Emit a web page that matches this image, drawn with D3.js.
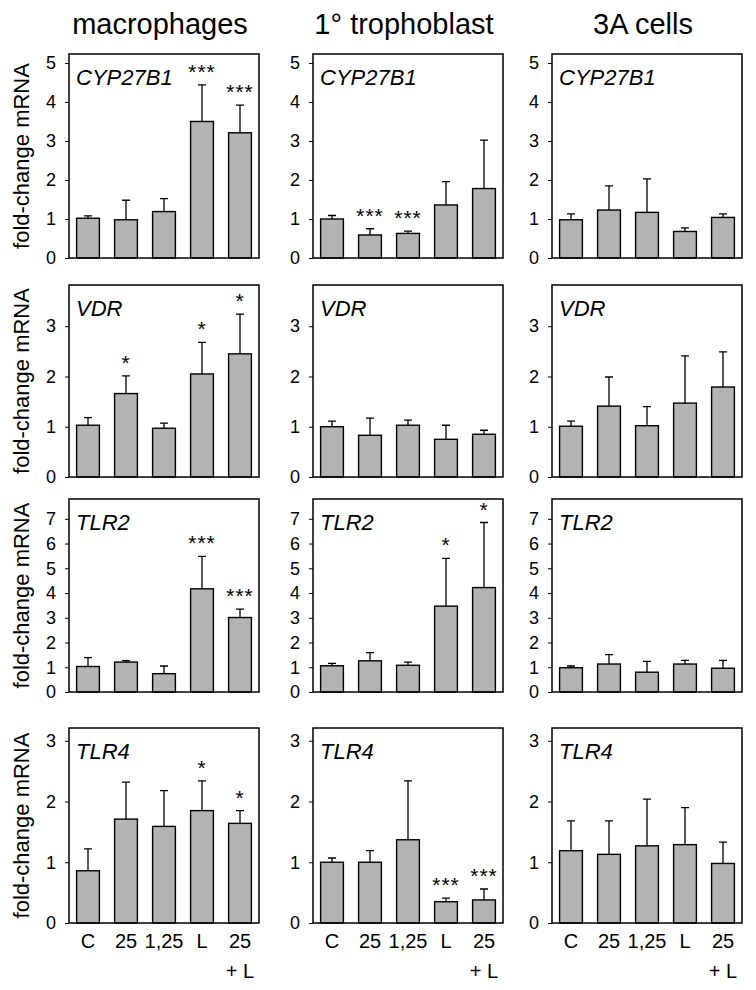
<!DOCTYPE html>
<html lang="en">
<head>
  <meta charset="UTF-8">
  <title>fold-change mRNA panels</title>
  <script src="https://d3js.org/d3.v7.min.js"></script>
</head>
<body style="margin: 0; padding: 0; overflow: hidden; background: #fff;">
  <svg id="svg-container"></svg>

  <script>
    // data
    const categories = ["C", "25", "1,25", "L", "25 + L"];
    const cellTypes = ["macrophages", "1° trophoblast", "3A cells"];
    const genes = ["CYP27B1", "VDR", "TLR2", "TLR4"];
    const yTicks = [[0, 1, 2, 3, 4, 5], [0, 1, 2, 3], [0, 1, 2, 3, 4, 5, 6, 7], [0, 1, 2, 3]];
    const yMax = [5.23, 3.82, 7.8, 3.21];

    // one row per cell type: macrophages, 1° trophoblast, 3A cells
    const cyp27b1Mean = [[1.02, 0.98, 1.19, 3.50, 3.21], [1.00, 0.59, 0.63, 1.36, 1.78], [0.98, 1.23, 1.17, 0.68, 1.04]];
    const cyp27b1Err  = [[0.06, 0.50, 0.33, 0.94, 0.71], [0.09, 0.16, 0.06, 0.60, 1.24], [0.15, 0.62, 0.86, 0.09, 0.09]];
    const cyp27b1Sig  = [["", "", "", "***", "***"], ["", "***", "***", "", ""], ["", "", "", "", ""]];

    const vdrMean = [[1.03, 1.66, 0.97, 2.05, 2.45], [1.00, 0.83, 1.03, 0.75, 0.85], [1.01, 1.41, 1.02, 1.47, 1.79]];
    const vdrErr  = [[0.15, 0.35, 0.10, 0.63, 0.79], [0.11, 0.34, 0.10, 0.28, 0.08], [0.10, 0.58, 0.38, 0.94, 0.70]];
    const vdrSig  = [["", "*", "", "*", "*"], ["", "", "", "", ""], ["", "", "", "", ""]];

    const tlr2Mean = [[1.03, 1.21, 0.74, 4.17, 3.01], [1.06, 1.26, 1.08, 3.47, 4.22], [0.98, 1.13, 0.80, 1.13, 0.96]];
    const tlr2Err  = [[0.36, 0.06, 0.31, 1.31, 0.34], [0.10, 0.33, 0.13, 1.93, 2.63], [0.07, 0.38, 0.44, 0.15, 0.32]];
    const tlr2Sig  = [["", "", "", "***", "***"], ["", "", "", "*", "*"], ["", "", "", "", ""]];

    const tlr4Mean = [[0.86, 1.71, 1.59, 1.85, 1.64], [1.00, 1.00, 1.37, 0.35, 0.38], [1.19, 1.13, 1.27, 1.29, 0.98]];
    const tlr4Err  = [[0.36, 0.61, 0.59, 0.49, 0.21], [0.07, 0.19, 0.97, 0.06, 0.18], [0.49, 0.55, 0.77, 0.61, 0.35]];
    const tlr4Sig  = [["", "", "", "*", "*"], ["", "", "", "***", "***"], ["", "", "", "", ""]];

    const means = [cyp27b1Mean, vdrMean, tlr2Mean, tlr4Mean];
    const errs = [cyp27b1Err, vdrErr, tlr2Err, tlr4Err];
    const sigs = [cyp27b1Sig, vdrSig, tlr2Sig, tlr4Sig];

    // layout
    const font = "'Liberation Sans', Arial, Helvetica, sans-serif";
    const colLeft = [69, 313, 552];
    const panelW = 190;
    const rowTop = [54, 285, 499, 728];
    const rowZero = [258, 477, 692, 923];

    const svg = d3.select("#svg-container")
      .attr("width", 756)
      .attr("height", 990)
      .style("font-family", font);

    const x = d3.scaleBand()
      .domain(categories)
      .range([0, panelW])
      .paddingInner(0.4)
      .paddingOuter(0.2);

    // column titles
    svg.selectAll(".col-title")
      .data(cellTypes)
      .enter()
      .append("text")
      .attr("class", "col-title")
      .attr("x", (d, i) => colLeft[i] + panelW / 2 - 4)
      .attr("y", 34)
      .attr("text-anchor", "middle")
      .attr("font-size", "29px")
      .text(d => d);

    genes.forEach((gene, r) => {
      const y = d3.scaleLinear()
        .domain([0, yMax[r]])
        .range([rowZero[r], rowTop[r]]);

      // y label
      const cy = (rowTop[r] + rowZero[r]) / 2;
      svg.append("text")
        .attr("transform", `translate(29,${cy}) rotate(-90)`)
        .attr("text-anchor", "middle")
        .attr("font-size", "22px")
        .text("fold-change mRNA");

      cellTypes.forEach((cell, c) => {
        const g = svg.append("g")
          .attr("transform", `translate(${colLeft[c]},0)`);

        const axis = g.append("g")
          .call(d3.axisLeft(y).tickValues(yTicks[r]).tickSize(4).tickPadding(9).tickFormat(d3.format("d")));
        axis.select(".domain").remove();
        axis.selectAll("text")
          .attr("font-size", "18px")
          .attr("font-family", font)
          .attr("fill", "#000");
        axis.selectAll("line").attr("stroke", "#000");

        const rows = categories.map((cat, i) => ({
          cat: cat,
          mean: means[r][c][i],
          err: errs[r][c][i],
          sig: sigs[r][c][i]
        }));

        // error bars (upper only)
        g.selectAll(".err")
          .data(rows)
          .enter()
          .append("path")
          .attr("class", "err")
          .attr("fill", "none")
          .attr("stroke", "#000")
          .attr("stroke-width", 1.3)
          .attr("d", d => {
            const cx = x(d.cat) + x.bandwidth() / 2;
            const yt = y(d.mean + d.err);
            return `M${cx},${y(d.mean)}V${yt}M${cx - 4},${yt}H${cx + 4}`;
          });

        // bars
        g.selectAll(".bar")
          .data(rows)
          .enter()
          .append("rect")
          .attr("class", "bar")
          .attr("x", d => x(d.cat))
          .attr("width", x.bandwidth())
          .attr("y", d => y(d.mean))
          .attr("height", d => y(0) - y(d.mean))
          .attr("fill", "#b3b3b3")
          .attr("stroke", "#000")
          .attr("stroke-width", 1.4);

        // significance stars
        g.selectAll(".sig")
          .data(rows.filter(d => d.sig))
          .enter()
          .append("text")
          .attr("class", "sig")
          .attr("x", d => x(d.cat) + x.bandwidth() / 2)
          .attr("y", d => y(d.mean + d.err) - 6)
          .attr("text-anchor", "middle")
          .attr("font-size", "21px")
          .attr("letter-spacing", "1px")
          .text(d => d.sig);

        // frame
        g.append("rect")
          .attr("x", 0)
          .attr("y", rowTop[r])
          .attr("width", panelW)
          .attr("height", rowZero[r] - rowTop[r])
          .attr("fill", "none")
          .attr("stroke", "#000")
          .attr("stroke-width", 1.5);

        // gene name
        g.append("text")
          .attr("x", 7)
          .attr("y", rowTop[r] + 31)
          .attr("font-size", "22px")
          .attr("font-style", "italic")
          .text(gene);

        // category labels under the bottom row
        if (r === genes.length - 1) {
          const lab = g.selectAll(".cat")
            .data(categories)
            .enter()
            .append("text")
            .attr("class", "cat")
            .attr("x", d => x(d) + x.bandwidth() / 2)
            .attr("y", rowZero[r] + 25)
            .attr("text-anchor", "middle")
            .attr("font-size", "20px");
          lab.each(function(d) {
            const parts = d.split(" + ");
            const t = d3.select(this);
            t.append("tspan").text(parts[0]);
            if (parts.length > 1) {
              t.append("tspan")
                .attr("x", x(d) + x.bandwidth() / 2)
                .attr("dy", 30)
                .text("+ " + parts[1]);
            }
          });
        }
      });
    });
  </script>
</body>
</html>
